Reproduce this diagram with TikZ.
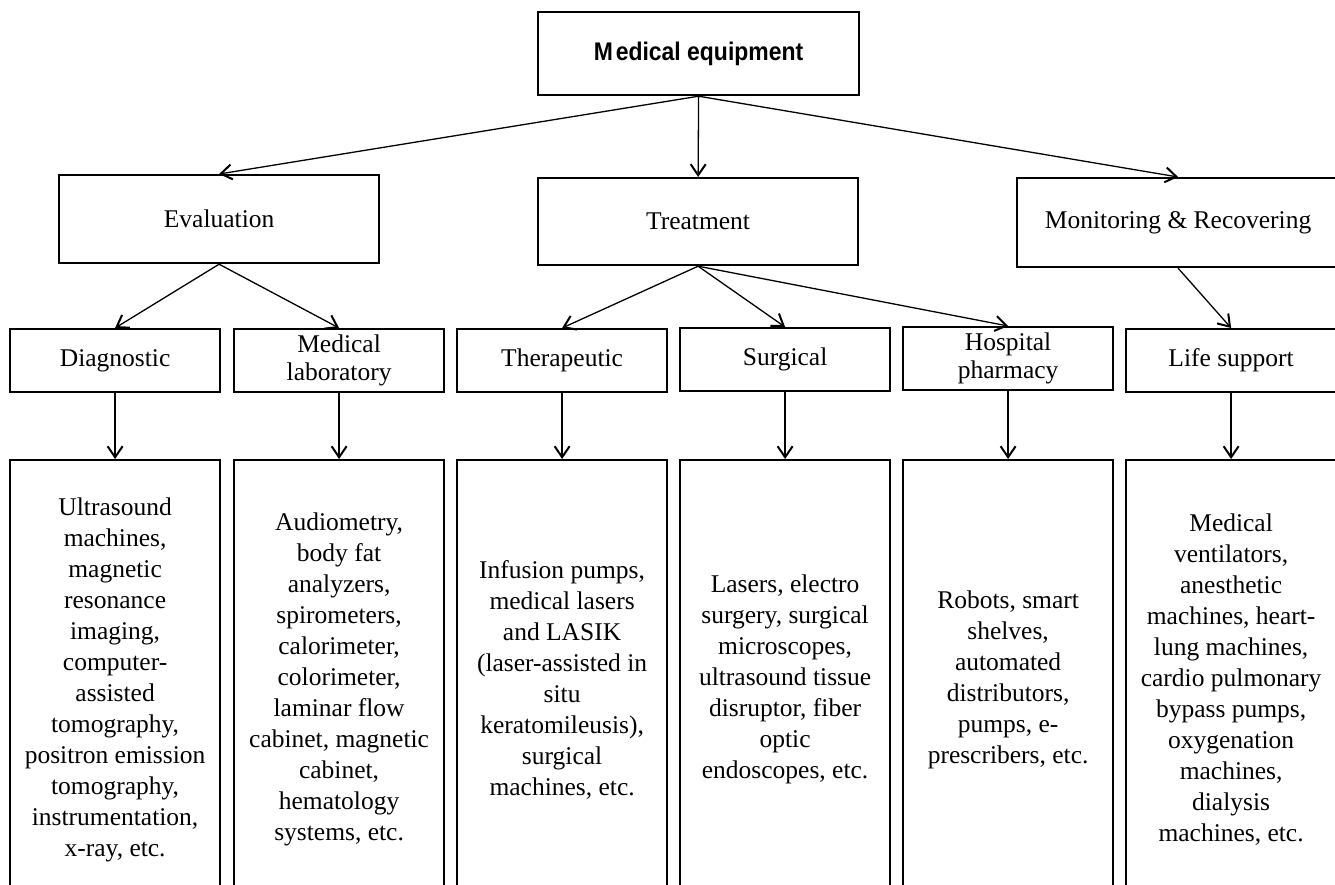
\documentclass[tikz,border=0pt]{standalone}
\usepackage{fontspec}
\setmainfont{Liberation Serif}
\newfontfamily\titlefont{Liberation Sans}
\usetikzlibrary{arrows.meta}
\begin{document}
\begin{tikzpicture}[x=1pt,y=-1pt,
  box/.style={draw, line width=2.2pt, inner sep=0pt, align=center,
    font=\fontsize{25.5}{31}\selectfont},
  midbox/.style={box, minimum width=210pt, minimum height=63pt,
    font=\fontsize{25.5}{28}\selectfont},
  detbox/.style={box, minimum width=210pt, minimum height=439pt},
  conn/.style={line width=1.3pt, -{Straight Barb[length=11pt,width=15pt,line width=2pt]}}]
\clip (0,0) rectangle (1335,884);
\fill[white] (0,0) rectangle (1335,884);
% level 0
\node[box, minimum width=321pt, minimum height=83pt, anchor=north west] (top) at (537,11)
  {\scalebox{0.9}[1]{\titlefont\bfseries M\kern3pt edical equipment}};
% level 1
\node[box, minimum width=320pt, minimum height=88pt, anchor=north west] (eval) at (58,174) {Evaluation};
\node[box, minimum width=320pt, minimum height=87pt, anchor=north west] (treat) at (537,177) {Treatment};
\node[box, minimum width=322pt, minimum height=89pt, anchor=north west] (mon) at (1016,177) {Monitoring \& Recovering};
% level 2
\node[midbox, anchor=north west] (diag) at (9,328) {Diagnostic};
\node[midbox, anchor=north west] (lab) at (233,328) {Medical\\laboratory};
\node[midbox, anchor=north west] (ther) at (456,328) {Therapeutic};
\node[midbox, anchor=north west] (surg) at (679,327) {Surgical};
\node[midbox, anchor=north west] (pharm) at (902,326) {Hospital\\pharmacy};
\node[midbox, anchor=north west] (life) at (1125,328) {Life support};
% level 3
\node[detbox, anchor=north west] (diagd) at (9,459) {Ultrasound\\machines,\\magnetic\\resonance\\imaging,\\computer-\\assisted\\tomography,\\positron emission\\tomography,\\instrumentation,\\x-ray, etc.};
\node[detbox, anchor=north west] (labd) at (233,459) {Audiometry,\\body fat\\analyzers,\\spirometers,\\calorimeter,\\colorimeter,\\laminar flow\\cabinet, magnetic\\cabinet,\\hematology\\systems, etc.};
\node[detbox, anchor=north west] (therd) at (456,459) {Infusion pumps,\\medical lasers\\and LASIK\\(laser-assisted in\\situ\\keratomileusis),\\surgical\\machines, etc.};
\node[detbox, anchor=north west] (surgd) at (679,459) {Lasers, electro\\surgery, surgical\\microscopes,\\ultrasound tissue\\disruptor, fiber\\optic\\endoscopes, etc.};
\node[detbox, anchor=north west] (pharmd) at (902,459) {Robots, smart\\shelves,\\automated\\distributors,\\pumps, e-\\prescribers, etc.};
\node[detbox, anchor=north west] (lifed) at (1125,459) {Medical\\ventilators,\\anesthetic\\machines, heart-\\lung machines,\\cardio pulmonary\\bypass pumps,\\oxygenation\\machines,\\dialysis\\machines, etc.};
% connectors
\draw[conn] (top.south) -- (eval.north);
\draw[conn] (top.south) -- (treat.north);
\draw[conn] (top.south) -- (mon.north);
\draw[conn] (eval.south) -- (diag.north);
\draw[conn] (eval.south) -- (lab.north);
\draw[conn] (treat.south) -- (ther.north);
\draw[conn] (treat.south) -- (surg.north);
\draw[conn] (treat.south) -- (pharm.north);
\draw[conn] (mon.south) -- (life.north);
\draw[conn] (diag.south) -- (diagd.north);
\draw[conn] (lab.south) -- (labd.north);
\draw[conn] (ther.south) -- (therd.north);
\draw[conn] (surg.south) -- (surgd.north);
\draw[conn] (pharm.south) -- (pharmd.north);
\draw[conn] (life.south) -- (lifed.north);
\end{tikzpicture}
\end{document}
